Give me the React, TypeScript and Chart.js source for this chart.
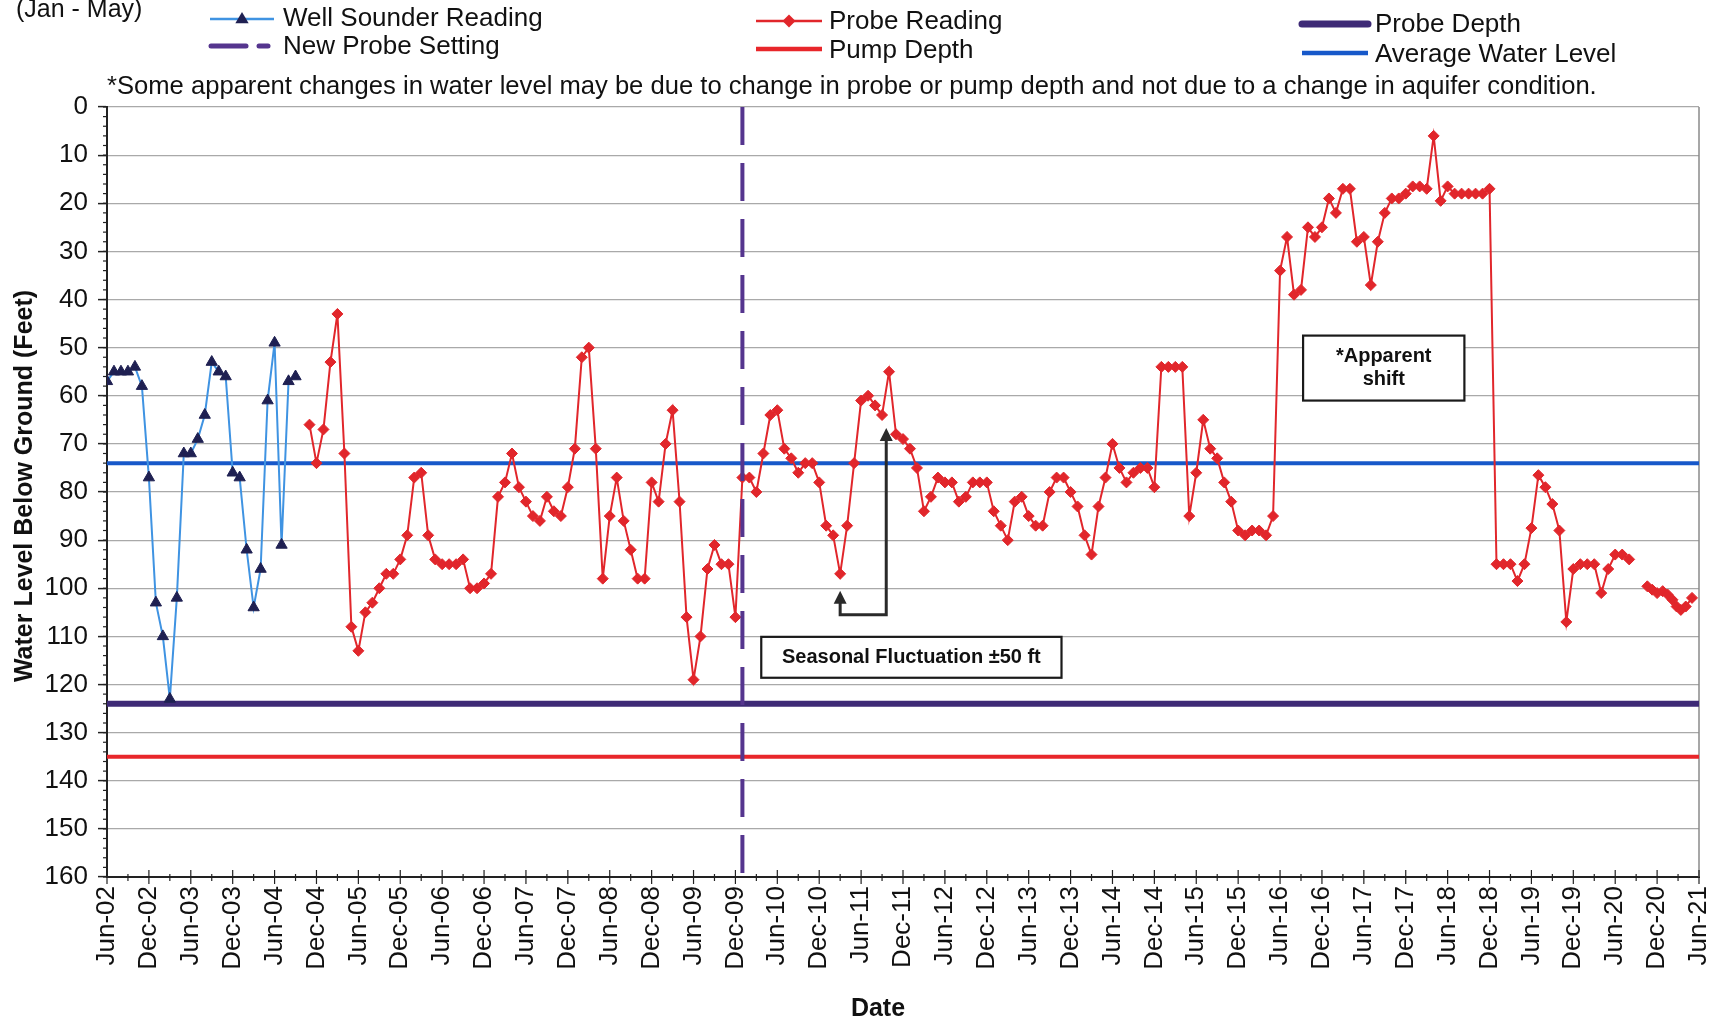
import React, { useEffect, useRef } from "react";
import { Chart, registerables } from "chart.js";

Chart.register(...registerables);

// ---------- DATA ----------
// x values are month indexes counted from Jun-2002 (0) to Jun-2021 (228)
const xTickLabels = [
  "Jun-02", "Dec-02", "Jun-03", "Dec-03", "Jun-04", "Dec-04", "Jun-05", "Dec-05",
  "Jun-06", "Dec-06", "Jun-07", "Dec-07", "Jun-08", "Dec-08", "Jun-09", "Dec-09",
  "Jun-10", "Dec-10", "Jun-11", "Dec-11", "Jun-12", "Dec-12", "Jun-13", "Dec-13",
  "Jun-14", "Dec-14", "Jun-15", "Dec-15", "Jun-16", "Dec-16", "Jun-17", "Dec-17",
  "Jun-18", "Dec-18", "Jun-19", "Dec-19", "Jun-20", "Dec-20", "Jun-21",
];
const yTickValues = [0, 10, 20, 30, 40, 50, 60, 70, 80, 90, 100, 110, 120, 130, 140, 150, 160];

const wellSounderStartMonth = 0;
const wellSounderValues = [
  57, 55, 55, 55, 54, 58, 77, 103, 110, 123,
  102, 72, 72, 69, 64, 53, 55, 56, 76, 77,
  92, 104, 96, 61, 49, 91, 57, 56,
];

const probeStartMonth = 29;
const probeMonthlyValues = [
  66, 74, 67, 53, 43, 72, 108, 113, 105, 103,
  100, 97, 97, 94, 89, 77, 76, 89, 94, 95,
  95, 95, 94, 100, 100, 99, 97, 81, 78, 72,
  79, 82, 85, 86, 81, 84, 85, 79, 71, 52,
  50, 71, 98, 85, 77, 86, 92, 98, 98, 78,
  82, 70, 63, 82, 106, 119, 110, 96, 91, 95,
  95, 106, 77, 77, 80, 72, 64, 63, 71, 73,
  76, 74, 74, 78, 87, 89, 97, 87, 74, 61,
  60, 62, 64, 55, 68, 69, 71, 75, 84, 81,
  77, 78, 78, 82, 81, 78, 78, 78, 84, 87,
  90, 82, 81, 85, 87, 87, 80, 77, 77, 80,
  83, 89, 93, 83, 77, 70, 75, 78, 76, 75,
  75, 79, 54, 54, 54, 54, 85, 76, 65, 71,
  73, 78, 82, 88, 89, 88, 88, 89, 85, 34,
  27, 39, 38, 25, 27, 25, 19, 22, 17, 17,
  28, 27, 37, 28, 22, 19, 19, 18, 16.5, 16.5,
  17, 6, 19.5, 16.5, 18, 18, 18, 18, 18, 17,
  95, 95, 95, 98.5, 95, 87.5, 76.5, 79, 82.5, 88,
  107, 96, 95, 95, 95, 101, 96, 93, 93, 94,
];
const probeGapMonth = 219.5;
const probeLateMonths = [220.6, 221.3, 222.0, 222.8, 223.5, 224.2, 224.8, 225.4, 226.1, 227.0];
const probeLateValues = [99.6, 100.3, 101, 100.6, 101.3, 102.4, 103.8, 104.5, 103.8, 102];

const probeDepthFeet = 124;
const pumpDepthFeet = 135;
const averageWaterLevelFeet = 74;
const newProbeSettingMonth = 91;
const axisMonthRange = [0, 228];
const axisFeetRange = [0, 160];

const titleFragment = "(Jan - May)";
const footnoteText =
  "*Some apparent changes in water level may be due to change in probe or pump depth and not due to a change in aquifer condition.";
const seasonalNote = "Seasonal Fluctuation \u00b150 ft";
const shiftNoteLines = ["*Apparent", "shift"];
// annotation anchors, in data units (month index, feet)
const seasonalBox = { x0: 93.7, x1: 136.7, y0: 110.1, y1: 118.6 };
const shiftBox = { x0: 171.3, x1: 194.4, y0: 47.5, y1: 61 };
const arrowPath = [
  { x: 105, y: 100.5 },
  { x: 105, y: 105.5 },
  { x: 111.6, y: 105.5 },
  { x: 111.6, y: 66.7 },
];

// ---------- STYLE ----------
const FONT = '"Liberation Sans", Arial, Helvetica, sans-serif';
const C = {
  wellLine: "#3f93e2",
  wellMarker: "#1f2052",
  probe: "#e1262b",
  probeDepth: "#3e2a76",
  pump: "#e8262a",
  avg: "#1758c9",
  newProbe: "#55358e",
  grid: "#a9a9a9",
  axis: "#222222",
  text: "#111111",
};

function triangle(ctx: CanvasRenderingContext2D, x: number, y: number, r: number) {
  ctx.beginPath();
  ctx.moveTo(x, y - r);
  ctx.lineTo(x + r * 0.95, y + r * 0.6);
  ctx.lineTo(x - r * 0.95, y + r * 0.6);
  ctx.closePath();
  ctx.fill();
}
function diamond(ctx: CanvasRenderingContext2D, x: number, y: number, r: number) {
  ctx.beginPath();
  ctx.moveTo(x, y - r);
  ctx.lineTo(x + r, y);
  ctx.lineTo(x, y + r);
  ctx.lineTo(x - r, y);
  ctx.closePath();
  ctx.fill();
}

const decorPlugin = {
  id: "decor",
  beforeDatasetsDraw(chart: any) {
    const { ctx, chartArea: a } = chart;
    const xs = chart.scales.x;
    const ys = chart.scales.y;
    ctx.save();
    // right border
    ctx.strokeStyle = "#8a8a8a";
    ctx.lineWidth = 1.5;
    ctx.beginPath();
    ctx.moveTo(a.right, a.top);
    ctx.lineTo(a.right, a.bottom);
    ctx.stroke();
    // x ticks every 3 months
    ctx.strokeStyle = C.axis;
    ctx.lineWidth = 1.2;
    for (let m = axisMonthRange[0]; m <= axisMonthRange[1]; m += 3) {
      const px = xs.getPixelForValue(m);
      const major = m % 6 === 0;
      ctx.beginPath();
      ctx.moveTo(px, a.bottom - (major ? 7 : 3));
      ctx.lineTo(px, a.bottom + (major ? 7 : 4));
      ctx.stroke();
    }
    // y minor ticks every 2 ft
    for (let v = axisFeetRange[0]; v <= axisFeetRange[1]; v += 2) {
      const py = ys.getPixelForValue(v);
      ctx.beginPath();
      ctx.moveTo(a.left - 4, py);
      ctx.lineTo(a.left, py);
      ctx.stroke();
    }
    ctx.restore();
  },
  afterDatasetsDraw(chart: any) {
    const { ctx } = chart;
    const xs = chart.scales.x;
    const ys = chart.scales.y;
    ctx.save();
    // arrow
    const pts = arrowPath.map((p) => [xs.getPixelForValue(p.x), ys.getPixelForValue(p.y)]);
    const head = 13;
    ctx.strokeStyle = "#2a2a2a";
    ctx.fillStyle = "#2a2a2a";
    ctx.lineWidth = 3;
    ctx.beginPath();
    ctx.moveTo(pts[0][0], pts[0][1] + head - 1);
    for (let i = 1; i < pts.length - 1; i++) ctx.lineTo(pts[i][0], pts[i][1]);
    ctx.lineTo(pts[pts.length - 1][0], pts[pts.length - 1][1] + head - 1);
    ctx.stroke();
    [pts[0], pts[pts.length - 1]].forEach(([x, y]) => {
      ctx.beginPath();
      ctx.moveTo(x, y);
      ctx.lineTo(x + 6.5, y + head);
      ctx.lineTo(x - 6.5, y + head);
      ctx.closePath();
      ctx.fill();
    });
    // boxes
    const drawBox = (b: any, lines: string[]) => {
      const x0 = xs.getPixelForValue(b.x0);
      const x1 = xs.getPixelForValue(b.x1);
      const y0 = ys.getPixelForValue(b.y0);
      const y1 = ys.getPixelForValue(b.y1);
      ctx.fillStyle = "#ffffff";
      ctx.fillRect(x0, y0, x1 - x0, y1 - y0);
      ctx.strokeStyle = "#1a1a1a";
      ctx.lineWidth = 2.2;
      ctx.strokeRect(x0, y0, x1 - x0, y1 - y0);
      ctx.fillStyle = C.text;
      ctx.font = `bold 20px ${FONT}`;
      ctx.textAlign = "center";
      ctx.textBaseline = "middle";
      const cx = (x0 + x1) / 2;
      const cy = (y0 + y1) / 2;
      const lh = 23;
      lines.forEach((t, i) => {
        ctx.fillText(t, cx, cy + (i - (lines.length - 1) / 2) * lh);
      });
    };
    drawBox(seasonalBox, [seasonalNote]);
    drawBox(shiftBox, shiftNoteLines);
    ctx.restore();
  },
  afterDraw(chart: any) {
    const { ctx } = chart;
    ctx.save();
    ctx.fillStyle = C.text;
    ctx.textBaseline = "middle";
    ctx.textAlign = "left";
    ctx.font = `25px ${FONT}`;
    ctx.fillText(titleFragment, 16, 10);

    // legend
    const seg = (x0: number, x1: number, y: number, color: string, w: number, cap: CanvasLineCap = "butt") => {
      ctx.strokeStyle = color;
      ctx.lineWidth = w;
      ctx.lineCap = cap;
      ctx.beginPath();
      ctx.moveTo(x0, y);
      ctx.lineTo(x1, y);
      ctx.stroke();
    };
    // Well Sounder Reading
    seg(210, 274, 19, C.wellLine, 2.5);
    ctx.fillStyle = C.wellMarker;
    triangle(ctx, 242, 19, 7);
    // New Probe Setting
    seg(211, 246, 46, C.newProbe, 5, "round");
    seg(259, 268, 46, C.newProbe, 5, "round");
    // Probe Reading
    seg(756, 822, 21, C.probe, 2.5);
    ctx.fillStyle = C.probe;
    diamond(ctx, 789, 21, 6.5);
    // Pump Depth
    seg(756, 822, 49, C.pump, 4.5);
    // Probe Depth
    seg(1302, 1368, 24, C.probeDepth, 7, "round");
    // Average Water Level
    seg(1302, 1368, 53, C.avg, 4.5);

    ctx.lineCap = "butt";
    ctx.fillStyle = C.text;
    ctx.font = `26px ${FONT}`;
    ctx.fillText("Well Sounder Reading", 283, 19);
    ctx.fillText("New Probe Setting", 283, 47);
    ctx.fillText("Probe Reading", 829, 22);
    ctx.fillText("Pump Depth", 829, 51);
    ctx.fillText("Probe Depth", 1375, 25);
    ctx.fillText("Average Water Level", 1375, 55);
    // footnote
    ctx.font = `25.6px ${FONT}`;
    ctx.fillText(footnoteText, 107, 87);

    // axis titles
    ctx.font = `bold 25px ${FONT}`;
    ctx.textAlign = "center";
    ctx.fillText("Date", 878, 1009);
    ctx.save();
    ctx.translate(25, 486);
    ctx.rotate(-Math.PI / 2);
    ctx.fillText("Water Level Below Ground (Feet)", 0, 0);
    ctx.restore();
    ctx.restore();
  },
};

export default function App() {
  const canvasRef = useRef<HTMLCanvasElement | null>(null);

  useEffect(() => {
    document.body.style.margin = "0";
    const canvas = canvasRef.current;
    if (!canvas) return;

    const wellData = wellSounderValues.map((v, i) => ({ x: wellSounderStartMonth + i, y: v }));
    const probeData: { x: number; y: number | null }[] = probeMonthlyValues.map((v, i) => ({
      x: probeStartMonth + i,
      y: v,
    }));
    probeData.push({ x: probeGapMonth, y: null });
    probeLateMonths.forEach((m, i) => probeData.push({ x: m, y: probeLateValues[i] }));

    const flat = (v: number) => [
      { x: axisMonthRange[0], y: v },
      { x: axisMonthRange[1], y: v },
    ];

    const chart = new Chart(canvas, {
      type: "line",
      data: {
        datasets: [
          {
            label: "New Probe Setting",
            data: [
              { x: newProbeSettingMonth, y: axisFeetRange[0] },
              { x: newProbeSettingMonth, y: axisFeetRange[1] },
            ],
            borderColor: C.newProbe,
            borderWidth: 4,
            borderDash: [38, 18],
            pointRadius: 0,
            order: 0,
          },
          {
            label: "Well Sounder Reading",
            data: wellData,
            borderColor: C.wellLine,
            borderWidth: 2,
            pointStyle: "triangle",
            pointRadius: 6.5,
            pointBackgroundColor: C.wellMarker,
            pointBorderColor: C.wellMarker,
            pointBorderWidth: 1,
            order: 1,
          },
          {
            label: "Probe Reading",
            data: probeData,
            borderColor: C.probe,
            borderWidth: 2,
            pointStyle: "rectRot",
            pointRadius: 5.5,
            pointBackgroundColor: C.probe,
            pointBorderColor: C.probe,
            pointBorderWidth: 1,
            spanGaps: false,
            order: 1,
          },
          {
            label: "Average Water Level",
            data: flat(averageWaterLevelFeet),
            borderColor: C.avg,
            borderWidth: 4,
            pointRadius: 0,
            order: 3,
          },
          {
            label: "Probe Depth",
            data: flat(probeDepthFeet),
            borderColor: C.probeDepth,
            borderWidth: 6,
            borderCapStyle: "round",
            pointRadius: 0,
            order: 4,
          },
          {
            label: "Pump Depth",
            data: flat(pumpDepthFeet),
            borderColor: C.pump,
            borderWidth: 4,
            pointRadius: 0,
            order: 4,
          },
        ],
      },
      options: {
        responsive: false,
        devicePixelRatio: 1,
        animation: false,
        events: [],
        layout: { padding: { left: 0, right: 19, top: 107, bottom: 0 } },
        plugins: {
          legend: { display: false },
          tooltip: { enabled: false },
          title: { display: false },
        },
        elements: { line: { tension: 0 } },
        scales: {
          x: {
            type: "linear",
            min: axisMonthRange[0],
            max: axisMonthRange[1],
            afterFit: (s: any) => {
              s.height = 147;
              s.paddingLeft = 0;
              s.paddingRight = 0;
            },
            afterBuildTicks: (s: any) => {
              s.ticks = xTickLabels.map((_, i) => ({ value: axisMonthRange[0] + i * 6 }));
            },
            ticks: {
              autoSkip: false,
              minRotation: 90,
              maxRotation: 90,
              padding: 9,
              color: C.text,
              font: { family: FONT, size: 26 },
              callback: (v: any) => xTickLabels[Math.round((Number(v) - axisMonthRange[0]) / 6)] ?? "",
            },
            grid: { display: true, drawOnChartArea: false, drawTicks: false },
            border: { display: true, color: C.axis, width: 2 },
          },
          y: {
            type: "linear",
            reverse: true,
            min: axisFeetRange[0],
            max: axisFeetRange[1],
            afterFit: (s: any) => {
              s.width = 107;
              s.paddingTop = 0;
              s.paddingBottom = 0;
            },
            afterBuildTicks: (s: any) => {
              s.ticks = yTickValues.map((v) => ({ value: v }));
            },
            ticks: {
              padding: 10,
              color: C.text,
              font: { family: FONT, size: 26 },
              callback: (v: any) => String(v),
            },
            grid: {
              color: C.grid,
              lineWidth: 1.2,
              drawTicks: true,
              tickLength: 9,
              tickColor: C.axis,
              tickWidth: 1.5,
            },
            border: { display: true, color: C.axis, width: 2 },
          },
        },
      },
      plugins: [decorPlugin],
    } as any);

    return () => chart.destroy();
  }, []);

  return (
    <div style={{ width: 1718, height: 1024, background: "#ffffff", overflow: "hidden" }}>
      <canvas ref={canvasRef} width={1718} height={1024} style={{ display: "block" }} />
    </div>
  );
}
